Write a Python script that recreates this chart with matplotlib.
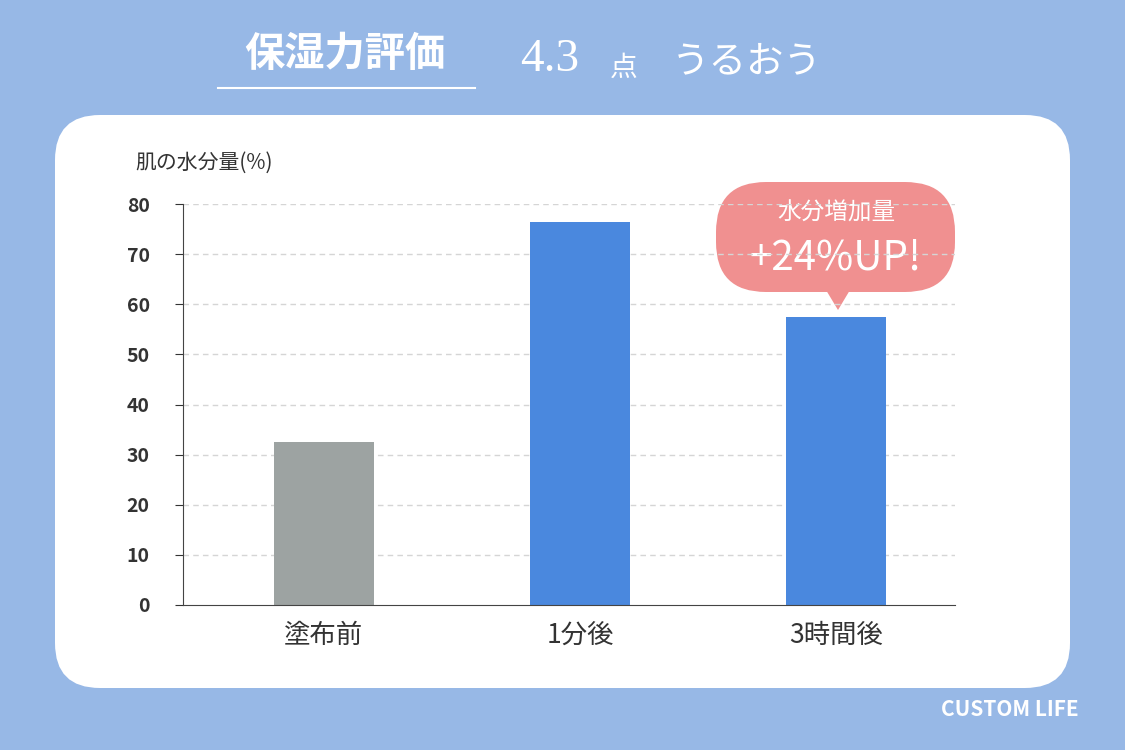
import matplotlib
matplotlib.use('Agg')
import matplotlib.pyplot as plt
from matplotlib.patches import FancyBboxPatch, Polygon

plt.rcParams['font.family'] = 'Noto Sans CJK JP'

categories = ['塗布前', '1分後', '3時間後']
values = [32.5, 76.5, 57.5]
colors = ['#9da3a2', '#4a88de', '#4a88de']
yticks = [0, 10, 20, 30, 40, 50, 60, 70, 80]

W, H = 1125, 750
fig = plt.figure(figsize=(11.25, 7.5), dpi=100)
fig.patch.set_facecolor('#97b8e6')

# page-level overlay in pixel coords (y down)
bg = fig.add_axes([0, 0, 1, 1])
bg.set_xlim(0, W); bg.set_ylim(H, 0); bg.axis('off')
bg.add_patch(FancyBboxPatch((55, 115), 1015, 573, boxstyle='round,pad=0,rounding_size=45',
                            fc='white', ec='none'))
bg.text(345, 55, '保湿力評価', color='white', fontsize=29, fontweight='bold',
        ha='center', va='center')
bg.plot([218, 475], [88, 88], color='white', lw=1.5)
bg.text(520, 60, '4.3', color='white', fontsize=34, family='Liberation Serif',
        ha='left', va='center')
bg.text(610, 68, '点', color='white', fontsize=20, ha='left', va='center')
bg.text(672, 62, 'うるおう', color='white', fontsize=27, ha='left', va='center')
bg.text(1010, 710, 'CUSTOM LIFE', color='white', fontsize=15, fontweight='bold',
        ha='center', va='center', family='DejaVu Sans Condensed' if False else None)
bg.text(135, 163, '肌の水分量(%)', color='#333333', fontsize=15, ha='left', va='center')

# chart axes: x 183..955, y 204..605 px
ax = fig.add_axes([183 / W, 1 - 605 / H, (955 - 183) / W, (605 - 204) / H])
ax.set_facecolor('none')
x = range(len(categories))
ax.bar(x, values, width=0.39, color=colors, zorder=2)
ax.set_xlim(-0.549, 2.463)
ax.set_ylim(0, 80)
ax.set_yticks(yticks)
ax.set_xticks(list(x))
ax.set_xticklabels(categories, fontsize=19, color='#333333')
ax.tick_params(axis='y', labelsize=14, colors='#333333', length=6, pad=18)
ax.tick_params(axis='x', length=0, pad=12)
for lab in ax.get_yticklabels():
    lab.set_fontweight('bold')
for y in yticks[1:]:
    ax.axhline(y, color='#d5d5d5', lw=1, ls=(0, (4, 3)), zorder=1)
for s in ['top', 'right']:
    ax.spines[s].set_visible(False)
ax.spines['left'].set_color('#444444')
ax.spines['bottom'].set_color('#444444')

# speech bubble
bg.add_patch(FancyBboxPatch((716, 182), 239, 110, boxstyle='round,pad=0,rounding_size=50',
                            fc='#f09090', ec='none', zorder=5))
bg.add_patch(Polygon([[826, 290], [850, 290], [838, 310]], fc='#f09090', ec='none', zorder=5))
bg.text(836, 213, '水分増加量', color='white', fontsize=17, ha='center', va='center', zorder=6)
bg.text(836, 258, '+24%UP!', color='white', fontsize=29, ha='center', va='center', zorder=6)
bg.set_zorder(0); ax.set_zorder(1)
bg2 = fig.add_axes([0, 0, 1, 1]); bg2.axis('off')

fig.savefig('out.png', dpi=100, facecolor=fig.get_facecolor())
